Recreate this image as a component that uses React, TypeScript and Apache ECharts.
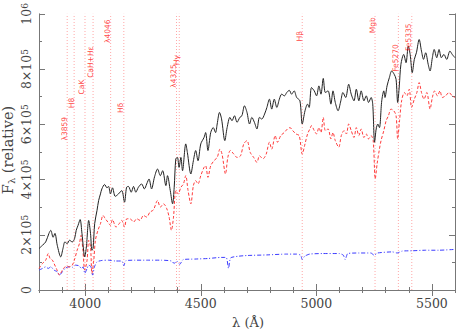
import React, { useEffect, useRef } from 'react';
import * as echarts from 'echarts';

// wavelength (Å), flux in units of 1e5
const blackSpectrum: [number, number][] = [
  [3800,1.50],[3815,1.62],[3829,1.74],[3843,2.05],[3851,2.16],[3861,1.91],[3869,2.05],[3879,1.62],[3894,1.20],[3904,1.51],
  [3912,1.74],[3922,1.68],[3932,1.80],[3944,1.74],[3954,1.86],[3961,2.16],[3969,2.34],[3978,2.55],[3986,2.04],[3998,1.20],
  [4005,1.56],[4015,2.52],[4023,2.04],[4029,1.44],[4034,1.51],[4041,2.41],[4051,2.88],[4058,3.24],[4066,3.48],[4072,3.66],
  [4084,3.82],[4094,3.70],[4101,3.75],[4109,3.48],[4118,3.70],[4130,3.39],[4144,3.48],[4158,3.60],[4170,3.18],[4179,3.72],
  [4187,3.75],[4199,3.54],[4209,3.75],[4219,3.54],[4230,3.72],[4244,3.84],[4256,3.66],[4266,3.84],[4276,4.02],[4287,3.66],
  [4300,4.10],[4313,4.38],[4325,4.14],[4335,4.32],[4349,3.78],[4356,4.14],[4368,3.60],[4378,3.12],[4385,3.72],[4392,4.75],
  [4399,4.80],[4406,4.44],[4414,4.80],[4421,4.32],[4435,5.29],[4442,4.98],[4457,4.20],[4468,4.68],[4478,5.05],[4488,4.68],
  [4500,5.29],[4514,5.52],[4521,5.70],[4531,5.05],[4543,5.70],[4554,5.88],[4564,5.70],[4571,6.01],[4581,6.43],[4590,6.19],
  [4604,5.41],[4614,5.88],[4626,6.25],[4635,6.13],[4646,6.31],[4657,6.07],[4669,6.25],[4678,6.31],[4689,6.67],[4700,6.43],
  [4711,6.01],[4721,6.25],[4732,6.07],[4743,5.83],[4754,6.25],[4764,6.19],[4776,6.37],[4786,6.61],[4797,6.91],[4807,6.55],
  [4818,6.91],[4829,6.61],[4840,6.91],[4850,7.09],[4862,7.03],[4872,7.15],[4883,7.23],[4893,7.09],[4904,7.21],[4915,6.97],
  [4929,6.85],[4939,6.01],[4951,6.49],[4962,6.73],[4969,6.61],[4979,7.33],[4991,7.21],[5001,7.03],[5011,7.39],[5020,7.09],
  [5030,7.66],[5039,7.15],[5051,7.21],[5063,6.73],[5072,7.21],[5082,6.79],[5094,6.49],[5106,6.85],[5115,7.15],[5127,6.97],
  [5140,7.45],[5151,7.09],[5163,6.85],[5173,7.27],[5184,6.85],[5194,7.21],[5206,6.85],[5216,7.03],[5226,6.79],[5237,6.97],
  [5244,6.73],[5252,5.35],[5259,5.83],[5266,6.01],[5273,5.88],[5283,6.85],[5292,7.21],[5297,6.97],[5306,7.39],[5316,7.69],
  [5326,7.93],[5337,7.81],[5345,7.63],[5352,6.79],[5359,7.39],[5366,8.17],[5378,8.53],[5388,8.23],[5398,8.83],[5406,8.53],
  [5415,7.87],[5424,8.35],[5433,8.59],[5445,9.07],[5455,8.65],[5464,8.35],[5473,8.59],[5484,8.17],[5492,7.93],[5502,8.41],
  [5510,8.71],[5521,8.41],[5531,8.71],[5541,8.41],[5552,8.53],[5564,8.35],[5578,8.65],[5588,8.53],[5600,8.41],
];

const redSpectrum: [number, number][] = [
  [3800,0.78],[3815,0.96],[3829,1.08],[3840,1.32],[3848,1.14],[3858,1.08],[3865,0.96],[3875,0.78],[3889,0.54],[3901,0.72],
  [3915,0.84],[3932,0.84],[3944,0.90],[3955,1.14],[3965,1.44],[3975,1.68],[3982,1.98],[3990,1.44],[3998,0.72],[4008,1.08],
  [4015,1.80],[4023,1.56],[4029,0.60],[4037,1.08],[4044,1.80],[4055,2.16],[4066,2.40],[4077,2.70],[4087,2.58],[4098,2.46],
  [4109,2.34],[4118,2.55],[4133,2.28],[4147,2.40],[4158,2.52],[4170,2.28],[4180,2.58],[4194,2.58],[4209,2.46],[4223,2.58],
  [4237,2.52],[4252,2.70],[4266,2.64],[4280,2.82],[4295,2.90],[4313,3.24],[4325,3.00],[4339,3.12],[4353,2.94],[4363,2.64],
  [4373,2.16],[4382,2.64],[4392,3.60],[4402,3.48],[4414,3.72],[4425,3.84],[4435,4.14],[4445,3.60],[4457,3.12],[4468,3.78],
  [4478,3.96],[4488,3.84],[4500,4.14],[4514,4.44],[4521,4.50],[4531,4.08],[4543,4.50],[4557,4.68],[4571,4.80],[4583,5.10],
  [4592,4.92],[4607,4.20],[4617,4.80],[4628,5.05],[4643,4.92],[4657,4.80],[4672,4.86],[4686,5.29],[4700,5.41],[4714,4.98],
  [4729,4.80],[4743,4.62],[4754,4.86],[4769,4.75],[4783,4.92],[4797,5.35],[4807,5.10],[4822,5.59],[4832,5.35],[4846,5.59],
  [4861,5.70],[4875,5.83],[4886,5.88],[4898,5.77],[4912,5.65],[4926,5.59],[4939,4.92],[4951,5.29],[4962,5.65],[4972,5.83],
  [4979,5.95],[4991,5.77],[5001,5.65],[5011,5.88],[5020,5.70],[5030,6.25],[5039,5.77],[5051,5.83],[5063,5.47],[5072,5.70],
  [5082,5.41],[5097,5.17],[5108,5.59],[5120,5.77],[5130,5.65],[5140,6.01],[5151,5.77],[5163,5.52],[5173,5.88],[5184,5.59],
  [5194,5.83],[5206,5.52],[5216,5.65],[5226,5.47],[5237,5.59],[5246,5.41],[5255,4.02],[5263,4.57],[5272,5.05],[5280,5.41],
  [5292,5.77],[5302,6.13],[5312,6.31],[5323,6.55],[5335,6.49],[5345,6.31],[5352,5.47],[5360,6.13],[5369,6.85],[5381,7.15],
  [5392,7.03],[5402,7.27],[5412,6.61],[5424,6.91],[5435,7.15],[5445,7.51],[5455,7.15],[5466,6.91],[5478,7.15],[5492,6.55],
  [5502,6.97],[5512,7.21],[5524,7.03],[5535,7.21],[5545,6.97],[5559,7.03],[5574,7.15],[5588,7.03],[5600,6.97],
];

const blueSpectrum: [number, number][] = [
  [3800,0.72],[3815,0.78],[3829,0.84],[3840,0.78],[3851,0.84],[3865,0.72],[3879,0.66],[3889,0.54],[3901,0.66],[3915,0.80],
  [3929,0.84],[3944,0.82],[3958,0.90],[3972,0.88],[3984,0.78],[3991,0.84],[3998,0.60],[4008,0.78],[4015,0.90],[4025,0.84],
  [4032,0.54],[4040,0.84],[4051,1.02],[4072,1.07],[4101,1.08],[4130,1.05],[4158,1.05],[4167,0.88],[4176,1.06],[4216,1.08],
  [4273,1.08],[4330,1.08],[4373,1.05],[4385,0.96],[4395,1.05],[4409,0.93],[4424,1.10],[4474,1.12],[4531,1.14],[4588,1.18],
  [4610,1.18],[4620,0.78],[4629,1.16],[4660,1.22],[4703,1.25],[4785,1.27],[4871,1.30],[4914,1.30],[4932,1.26],[4939,1.10],
  [4949,1.22],[4971,1.30],[5028,1.32],[5100,1.32],[5117,1.26],[5125,1.10],[5136,1.32],[5186,1.34],[5236,1.34],[5250,1.26],
  [5265,1.34],[5329,1.38],[5350,1.34],[5372,1.41],[5415,1.42],[5472,1.44],[5529,1.44],[5600,1.47],
];

const featureNames = ['λ3859', 'H8', 'CaK', 'CaH+Hε', 'λ4046', 'Hδ', 'λ4325', 'Hγ', 'Hβ', 'Mgb', 'Fe5270', 'Fe5335'];
const featureWaves = [3922, 3952, 3999, 4034, 4110, 4167, 4395, 4407, 4939, 5254, 5355, 5413];
const featureLabelLevels = [5.84, 6.77, 7.35, 8.25, 9.37, 6.59, 7.75, 8.32, 9.19, 9.59, 8.40, 9.15];

const xMajorTicks = [4000, 4500, 5000, 5500];
const yMajorTicks = [0, 2e5, 4e5, 6e5, 8e5, 1e6];
const Y_MIN = 0;
const Y_MAX = 1e6;

const SCALE = 1e5;
const SERIF = 'DejaVu Serif';
const AXIS_COLOR = '#777';
const LABEL_COLOR = '#444';
const FEATURE_LINE = 'rgba(255,120,120,0.65)';

export default function App() {
  const ref = useRef<HTMLDivElement>(null);

  useEffect(() => {
    if (!ref.current) return;
    const chart = echarts.init(ref.current, undefined, { renderer: 'svg' });
    const toData = (arr: [number, number][]) => arr.map(([w, f]) => [w, f * SCALE]);

    const xBase = { type: 'value', min: 3800, max: 5600, splitLine: { show: false } };
    const yBase = { type: 'value', min: Y_MIN, max: Y_MAX, splitLine: { show: false } };
    const minorTick = { show: true, inside: true, length: 3, lineStyle: { color: AXIS_COLOR } };
    const majorTick = { show: true, inside: true, length: 6, lineStyle: { color: AXIS_COLOR } };
    const line = { show: true, lineStyle: { color: AXIS_COLOR, width: 1 } };

    const featureLineSeries = featureWaves.map((w) => ({
      type: 'line',
      data: [[w, Y_MIN], [w, Y_MAX]],
      showSymbol: false,
      silent: true,
      z: 1,
      lineStyle: { color: FEATURE_LINE, type: [1, 2], width: 1 },
      emphasis: { disabled: true },
    }));

    const option: any = {
      animation: false,
      backgroundColor: '#fff',
      grid: { left: 39, right: 1, top: 12.5, bottom: 41, containLabel: false },
      xAxis: [
        {
          ...xBase, position: 'bottom', interval: 100, axisLine: line, axisTick: minorTick,
          axisLabel: {
            margin: 7, color: LABEL_COLOR, fontFamily: SERIF, fontSize: 12.5,
            formatter: (v: number) => (v % 500 === 0 && v > 3800 ? String(v) : ''),
          },
        },
        { ...xBase, position: 'bottom', axisLine: { show: false }, axisTick: { ...majorTick, customValues: xMajorTicks }, axisLabel: { show: false } },
        { ...xBase, position: 'top', interval: 100, axisLine: line, axisTick: minorTick, axisLabel: { show: false } },
        { ...xBase, position: 'top', axisLine: { show: false }, axisTick: { ...majorTick, customValues: xMajorTicks }, axisLabel: { show: false } },
      ],
      yAxis: [
        {
          ...yBase, position: 'left', interval: 1e5, axisLine: line, axisTick: minorTick,
          axisLabel: {
            rotate: 90, margin: 6, color: LABEL_COLOR,
            formatter: (v: number) => {
              if (v === 0) return '{m|0}';
              if (v === 1e6) return '{m|10}{s|6}';
              if (v % 2e5 === 0) return `{m|${v / 1e5}×10}{s|5}`;
              return '';
            },
            rich: {
              m: { fontFamily: SERIF, fontSize: 12.5, color: LABEL_COLOR },
              s: { fontFamily: SERIF, fontSize: 9, color: LABEL_COLOR, verticalAlign: 'top' },
            },
          },
        },
        { ...yBase, position: 'left', axisLine: { show: false }, axisTick: { ...majorTick, customValues: yMajorTicks }, axisLabel: { show: false } },
        { ...yBase, position: 'right', interval: 1e5, axisLine: line, axisTick: minorTick, axisLabel: { show: false } },
        { ...yBase, position: 'right', axisLine: { show: false }, axisTick: { ...majorTick, customValues: yMajorTicks }, axisLabel: { show: false } },
      ],
      graphic: [
        {
          type: 'text', x: 8, y: 150, rotation: Math.PI / 2,
          style: {
            text: '{m|F}{s|λ}{m| (relative)}',
            align: 'center', verticalAlign: 'middle',
            rich: {
              m: { fontFamily: SERIF, fontSize: 14.5, fill: LABEL_COLOR },
              s: { fontFamily: SERIF, fontSize: 10, fill: LABEL_COLOR, verticalAlign: 'bottom', padding: [6, 0, 0, 0] },
            },
          },
        },
        {
          type: 'text', x: 248, y: 322,
          style: { text: 'λ (Å)', fontFamily: SERIF, fontSize: 13, fill: LABEL_COLOR, align: 'center', verticalAlign: 'middle' },
        },
      ],
      series: [
        ...featureLineSeries,
        {
          type: 'line', name: 'blue', data: toData(blueSpectrum), showSymbol: false, smooth: 0.2,
          lineStyle: { color: '#3b3bff', width: 1, type: [4, 2, 1, 2] }, z: 2,
        },
        {
          type: 'line', name: 'red', data: toData(redSpectrum), showSymbol: false, smooth: 0.3,
          lineStyle: { color: '#ff3b3b', width: 1, type: [3, 2] }, z: 3,
        },
        {
          type: 'line', name: 'black', data: toData(blackSpectrum), showSymbol: false, smooth: 0.3,
          lineStyle: { color: '#222', width: 1 }, z: 4,
        },
        {
          type: 'scatter', name: 'features', symbolSize: 0, z: 5, silent: true,
          data: featureWaves.map((w, i) => ({ value: [w, featureLabelLevels[i] * SCALE], name: featureNames[i] })),
          label: {
            show: true, position: 'inside', rotate: 90, offset: [0, -3],
            formatter: (p: any) => p.name,
            fontFamily: 'DejaVu Sans', fontSize: 7.5, color: '#ff1010',
          },
        },
      ],
    };

    chart.setOption(option);
    return () => chart.dispose();
  }, []);

  return (
    <div
      ref={ref}
      style={{ position: 'fixed', left: 0, top: 0, width: 458, height: 331, background: '#fff' }}
    />
  );
}
